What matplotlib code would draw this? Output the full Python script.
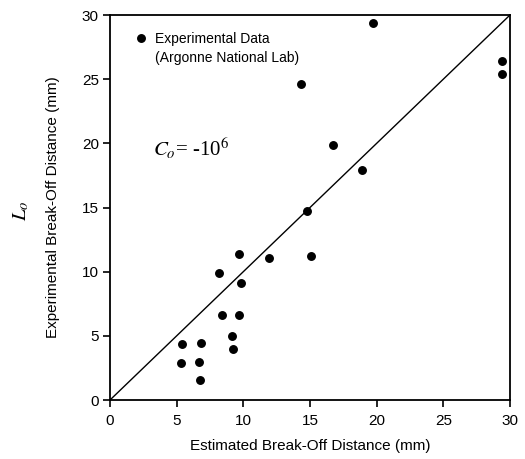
import numpy as np
import matplotlib
matplotlib.use("Agg")
import matplotlib.pyplot as plt

plt.rcParams['font.family'] = ['Liberation Sans', 'DejaVu Sans']
plt.rcParams['mathtext.fontset'] = 'stix'

# Estimated vs experimental break-off distance (mm)
est = [19.7, 29.4, 29.4, 14.3, 16.7, 18.9, 14.8, 9.7, 11.9, 15.1, 8.2,
       9.85, 8.4, 9.7, 9.15, 9.2, 5.4, 6.8, 5.3, 6.7, 6.75]
exp = [29.4, 26.4, 25.4, 24.6, 19.9, 17.9, 14.7, 11.4, 11.1, 11.2, 9.9,
       9.1, 6.6, 6.6, 4.95, 4.0, 4.4, 4.45, 2.9, 2.95, 1.55]
ticks = [0, 5, 10, 15, 20, 25, 30]
lims = [0, 30]

fig = plt.figure(figsize=(5.25, 4.59), dpi=100)
ax = fig.add_axes([0.2095, 0.1285, 0.7619, 0.8388])

ax.plot(lims, lims, color='black', linewidth=1.0)
pts, = ax.plot(est, exp, 'o', color='black', markersize=5.4, linestyle='none',
               label='Experimental Data')

ax.set_xlim(lims)
ax.set_ylim(lims)
ax.set_xticks(ticks)
ax.set_yticks(ticks)
ax.tick_params(direction='out', length=5, width=1.2, labelsize=11)
ax.tick_params(axis='x', pad=5)
ax.tick_params(axis='y', pad=3)
for s in ax.spines.values():
    s.set_linewidth(1.3)

ax.set_xlabel("Estimated Break-Off Distance (mm)", fontsize=11, labelpad=8)
ax.set_ylabel("Experimental Break-Off Distance (mm)", fontsize=11, labelpad=16)
fig.text(0.04, 0.54, r'$L_o$', rotation=90, fontsize=15, ha='center', va='center')

leg = ax.legend(handles=[pts], loc='upper left', bbox_to_anchor=(0.056, 0.956),
                frameon=False, fontsize=10, handletextpad=0.43, handlelength=1.2,
                borderpad=0, borderaxespad=0)
ax.text(0.1125, 0.879, "(Argonne National Lab)", transform=ax.transAxes,
        fontsize=10, va='baseline')
ax.text(0.108, 0.633, r'$C_o$= -10$^6$', transform=ax.transAxes, fontsize=15,
        fontfamily='Liberation Serif', va='baseline')

fig.savefig("out.png", dpi=100)
